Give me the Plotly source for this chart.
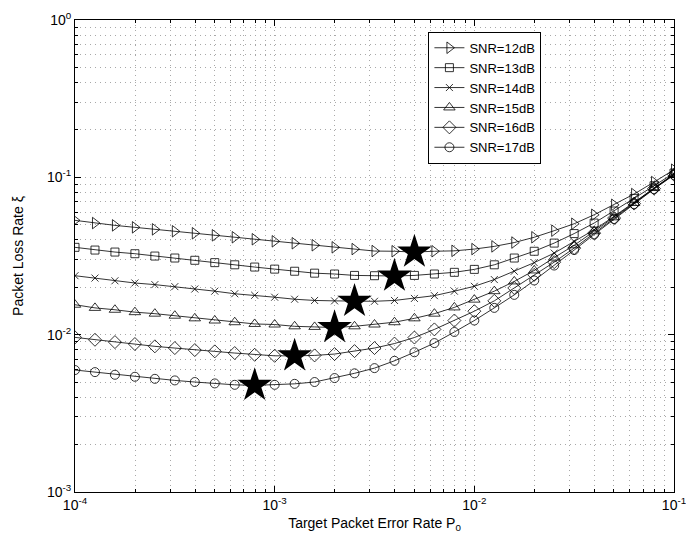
import numpy as np
import plotly.graph_objects as go

# Target packet error rate P0: 31 points, 10 per decade from 1e-4 to 1e-1
p0_exponents = [-4.0, -3.9, -3.8, -3.7, -3.6, -3.5, -3.4, -3.3, -3.2, -3.1,
                -3.0, -2.9, -2.8, -2.7, -2.6, -2.5, -2.4, -2.3, -2.2, -2.1,
                -2.0, -1.9, -1.8, -1.7, -1.6, -1.5, -1.4, -1.3, -1.2, -1.1, -1.0]

snr_labels = ["SNR=12dB", "SNR=13dB", "SNR=14dB", "SNR=15dB", "SNR=16dB", "SNR=17dB"]

loss_snr12 = [0.0533, 0.0512, 0.0495, 0.0481, 0.0467, 0.0454, 0.0441, 0.0428, 0.0416, 0.0404,
              0.0392, 0.0381, 0.0370, 0.0359, 0.0350, 0.0340, 0.0339, 0.0335, 0.0339, 0.0341,
              0.0350, 0.0364, 0.0385, 0.0416, 0.0458, 0.0507, 0.0578, 0.0669, 0.0783, 0.0933, 0.1118]
loss_snr13 = [0.0359, 0.0345, 0.0335, 0.0327, 0.0316, 0.0307, 0.0297, 0.0287, 0.0278, 0.0269,
              0.0261, 0.0253, 0.0246, 0.0243, 0.0238, 0.0237, 0.0236, 0.0238, 0.0243, 0.0249,
              0.0260, 0.0278, 0.0307, 0.0339, 0.0382, 0.0439, 0.0512, 0.0611, 0.0735, 0.0884, 0.1065]
loss_snr14 = [0.0237, 0.0229, 0.0220, 0.0213, 0.0208, 0.0202, 0.0195, 0.0189, 0.0182, 0.0178,
              0.0173, 0.0168, 0.0165, 0.0164, 0.0163, 0.0163, 0.0165, 0.0170, 0.0177, 0.0189,
              0.0203, 0.0224, 0.0253, 0.0287, 0.0330, 0.0391, 0.0464, 0.0565, 0.0690, 0.0851, 0.1045]
loss_snr15 = [0.0155, 0.0148, 0.0144, 0.0139, 0.0136, 0.0132, 0.0127, 0.0123, 0.0120, 0.0117,
              0.0116, 0.0113, 0.0112, 0.0111, 0.0113, 0.0116, 0.0120, 0.0127, 0.0136, 0.0149,
              0.0167, 0.0189, 0.0218, 0.0256, 0.0309, 0.0370, 0.0454, 0.0557, 0.0687, 0.0855, 0.1050]
loss_snr16 = [0.00961, 0.00928, 0.00897, 0.00872, 0.00843, 0.00822, 0.00798, 0.00783, 0.00764, 0.00745,
              0.00734, 0.00733, 0.00738, 0.00753, 0.00786, 0.00822, 0.00878, 0.00959, 0.0108, 0.0123,
              0.0141, 0.0164, 0.0198, 0.0240, 0.0289, 0.0355, 0.0442, 0.0551, 0.0681, 0.0848, 0.1040]
loss_snr17 = [0.00596, 0.00578, 0.00556, 0.00540, 0.00524, 0.00512, 0.00500, 0.00490, 0.00480, 0.00476,
              0.00480, 0.00487, 0.00500, 0.00530, 0.00568, 0.00613, 0.00682, 0.00773, 0.00884, 0.0104,
              0.0123, 0.0148, 0.0179, 0.0221, 0.0275, 0.0345, 0.0433, 0.0543, 0.0676, 0.0842, 0.1035]

# index of the optimum (minimum) point marked with a star, per curve
optimum_index = [17, 16, 14, 13, 11, 9]

series = [loss_snr12, loss_snr13, loss_snr14, loss_snr15, loss_snr16, loss_snr17]
symbols = ["triangle-right-open", "square-open", "x-thin-open", "triangle-up-open",
           "diamond-open", "circle-open"]
sizes = [10, 8, 7, 10, 10, 9]

p0 = [10 ** e for e in p0_exponents]

FONT = "Liberation Sans, Arial, Helvetica, sans-serif"

fig = go.Figure()
for name, ys, sym, sz in zip(snr_labels, series, symbols, sizes):
    fig.add_trace(go.Scatter(
        x=p0, y=ys, name=name, mode="lines+markers",
        line=dict(color="#000000", width=0.8),
        marker=dict(symbol=sym, size=sz, color="#000000",
                    line=dict(color="#000000", width=0.8)),
    ))

star_x = [p0[i] for i in optimum_index]
star_y = [ys[i] for ys, i in zip(series, optimum_index)]
fig.add_trace(go.Scatter(
    x=star_x, y=star_y, mode="markers", showlegend=False,
    marker=dict(symbol="star", size=26, color="#000000",
                line=dict(color="#000000", width=0)),
))

grid = dict(showgrid=True, gridcolor="#a8a8a8", gridwidth=1, griddash="1px,4px")

x_ticks = [1e-4, 1e-3, 1e-2, 1e-1]
x_ticktext = ["10<sup>-4</sup>", "10<sup>-3</sup>", "10<sup>-2</sup>", "10<sup>-1</sup>"]
y_ticks = [1e-3, 1e-2, 1e-1, 1]
y_ticktext = ["10<sup>-3</sup>", "10<sup>-2</sup>", "10<sup>-1</sup>", "10<sup>0</sup>"]

fig.update_xaxes(
    type="log", range=[-4, -1], tickvals=x_ticks, ticktext=x_ticktext,
    ticks="inside", ticklen=6, tickcolor="#000000",
    showline=True, linecolor="#000000", linewidth=1, mirror="ticks",
    zeroline=False, automargin=False,
    minor=dict(dtick="D1", ticks="inside", ticklen=3, tickcolor="#000000", **grid),
    **grid,
    title=dict(text="Target Packet Error Rate P<sub>0</sub>", font=dict(size=14, color="#000000"),
               standoff=6),
    tickfont=dict(size=14, color="#000000"),
)
fig.update_yaxes(
    type="log", range=[-3, 0], tickvals=y_ticks, ticktext=y_ticktext,
    ticks="inside", ticklen=6, tickcolor="#000000",
    showline=True, linecolor="#000000", linewidth=1, mirror="ticks",
    zeroline=False, automargin=False,
    minor=dict(dtick="D1", ticks="inside", ticklen=3, tickcolor="#000000", **grid),
    **grid,
    title=dict(text="Packet Loss Rate ξ", font=dict(size=14, color="#000000"), standoff=20),
    tickfont=dict(size=14, color="#000000"),
)

fig.update_layout(
    width=694, height=536,
    margin=dict(l=67, r=28, t=12, b=52),
    paper_bgcolor="#ffffff", plot_bgcolor="#ffffff",
    font=dict(family=FONT, size=13, color="#000000"),
    legend=dict(
        x=0.59, y=0.975, xanchor="left", yanchor="top",
        bgcolor="#ffffff", bordercolor="#000000", borderwidth=1,
        font=dict(size=13, family=FONT, color="#000000"),
        tracegroupgap=0, itemwidth=30,
    ),
)

fig.write_html("out.html")
